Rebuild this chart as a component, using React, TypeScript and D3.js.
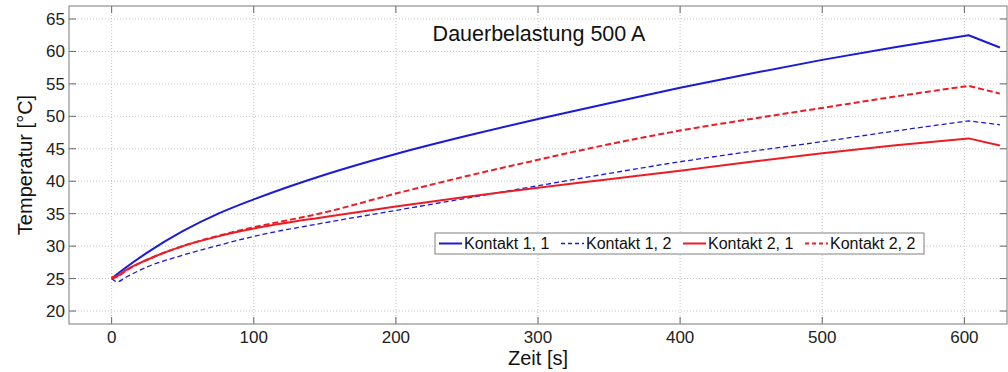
import * as d3 from 'd3';
import { type FC } from 'react';

// Zeit [s]
const times = [0, 4, 10, 25, 50, 75, 100, 150, 200, 250, 300, 350, 400, 450, 500, 550, 603, 625];

// Temperatur [°C]
const kontakt11 = [25, 25.7, 26.7, 29.0, 32.3, 35.0, 37.2, 41.0, 44.2, 47.0, 49.6, 52.0, 54.4, 56.6, 58.7, 60.6, 62.5, 60.6];
const kontakt12 = [25, 24.5, 25.2, 26.8, 28.6, 30.1, 31.5, 33.6, 35.5, 37.4, 39.3, 41.2, 43.0, 44.6, 46.1, 47.7, 49.3, 48.7];
const kontakt21 = [25.2, 25.4, 26.3, 27.9, 30.0, 31.5, 32.7, 34.5, 36.1, 37.6, 39.0, 40.3, 41.6, 43.0, 44.3, 45.5, 46.6, 45.5];
const kontakt22 = [25, 25.3, 26.2, 27.9, 30.0, 31.6, 32.9, 35.2, 38.1, 40.8, 43.3, 45.7, 47.8, 49.6, 51.3, 53.0, 54.7, 53.5];

const xTicks = [0, 100, 200, 300, 400, 500, 600];
const yTicks = [20, 25, 30, 35, 40, 45, 50, 55, 60, 65];

const seriesNames = ['Kontakt 1, 1', 'Kontakt 1, 2', 'Kontakt 2, 1', 'Kontakt 2, 2'];

const BLUE = '#1a1adc';
const RED = '#ec1c24';

const series = [
  { name: seriesNames[0], values: kontakt11, color: BLUE, width: 2, dash: '' },
  { name: seriesNames[1], values: kontakt12, color: BLUE, width: 1.3, dash: '5,3' },
  { name: seriesNames[2], values: kontakt21, color: RED, width: 2, dash: '' },
  { name: seriesNames[3], values: kontakt22, color: RED, width: 2, dash: '6,3' },
];

const W = 1008;
const H = 372;
const left = 69;
const right = 1007;
const top = 6;
const bottom = 324;
const font = 'Arial, "Liberation Sans", Helvetica, sans-serif';

// index of the heating peak; after it the curve is drawn straight
const PEAK = 16;

const App: FC = () => {
  const x = d3.scaleLinear().domain([-30, 630]).range([left, right]);
  const y = d3.scaleLinear().domain([18, 67]).range([bottom, top]);

  const smooth = d3
    .line<number>()
    .x((_, i) => x(times[i]))
    .y((d) => y(d))
    .curve(d3.curveMonotoneX);

  const pathFor = (values: number[]) => {
    const head = smooth(values.slice(0, PEAK + 1)) || '';
    const tail = values
      .slice(PEAK + 1)
      .map((v, j) => `L${x(times[PEAK + 1 + j])},${y(v)}`)
      .join('');
    return head + tail;
  };

  const tickLen = 7;
  const legendX = 435;
  const legendY = 233;
  const itemW = 122;

  return (
    <svg
      width={W}
      height={H}
      style={{ position: 'absolute', left: 0, top: 0, background: '#fff' }}
      fontFamily={font}
    >
      {/* grid */}
      {xTicks.map((t) => (
        <line
          key={`gx${t}`}
          x1={x(t)}
          x2={x(t)}
          y1={top}
          y2={bottom}
          stroke="#c4c4c4"
          strokeDasharray="1,2"
        />
      ))}
      {yTicks.map((t) => (
        <line
          key={`gy${t}`}
          x1={left}
          x2={right}
          y1={y(t)}
          y2={y(t)}
          stroke="#c4c4c4"
          strokeDasharray="1,2"
        />
      ))}

      {/* ticks on all sides */}
      {xTicks.map((t) => (
        <g key={`tx${t}`} stroke="#666">
          <line x1={x(t)} x2={x(t)} y1={bottom} y2={bottom - tickLen} />
          <line x1={x(t)} x2={x(t)} y1={top} y2={top + tickLen} />
        </g>
      ))}
      {yTicks.map((t) => (
        <g key={`ty${t}`} stroke="#666">
          <line x1={left} x2={left + tickLen} y1={y(t)} y2={y(t)} />
          <line x1={right} x2={right - tickLen} y1={y(t)} y2={y(t)} />
        </g>
      ))}

      {/* series */}
      {series.map((s) => (
        <path
          key={s.name}
          d={pathFor(s.values)}
          fill="none"
          stroke={s.color}
          strokeWidth={s.width}
          strokeDasharray={s.dash || undefined}
          strokeLinejoin="round"
        />
      ))}

      {/* axes box */}
      <rect
        x={left}
        y={top}
        width={right - left}
        height={bottom - top}
        fill="none"
        stroke="#7a7a7a"
      />

      {/* tick labels */}
      {xTicks.map((t) => (
        <text
          key={`lx${t}`}
          x={x(t)}
          y={343}
          textAnchor="middle"
          fontSize={17}
          fill="#222"
        >
          {t}
        </text>
      ))}
      {yTicks.map((t) => (
        <text
          key={`ly${t}`}
          x={65}
          y={y(t) + 6}
          textAnchor="end"
          fontSize={17}
          fill="#222"
        >
          {t}
        </text>
      ))}

      {/* axis labels */}
      <text x={(left + right) / 2} y={365} textAnchor="middle" fontSize={20} fill="#111">
        Zeit [s]
      </text>
      <text
        transform={`translate(32,${(top + bottom) / 2}) rotate(-90)`}
        textAnchor="middle"
        fontSize={20}
        fill="#111"
      >
        Temperatur [°C]
      </text>

      {/* title */}
      <text x={539} y={41} textAnchor="middle" fontSize={21.5} fill="#111">
        Dauerbelastung 500 A
      </text>

      {/* legend */}
      <g>
        <rect
          x={legendX}
          y={legendY}
          width={489}
          height={21}
          fill="#fff"
          stroke="#808080"
        />
        {series.map((s, i) => {
          const ix = legendX + 4 + i * itemW;
          const cy = legendY + 10.5;
          return (
            <g key={`leg${s.name}`}>
              <line
                x1={ix}
                x2={ix + 23}
                y1={cy}
                y2={cy}
                stroke={s.color}
                strokeWidth={s.width}
                strokeDasharray={s.dash ? '4,3' : undefined}
              />
              <text x={ix + 25} y={cy + 5.5} fontSize={16} fill="#111">
                {s.name}
              </text>
            </g>
          );
        })}
      </g>
    </svg>
  );
};

export default App;
